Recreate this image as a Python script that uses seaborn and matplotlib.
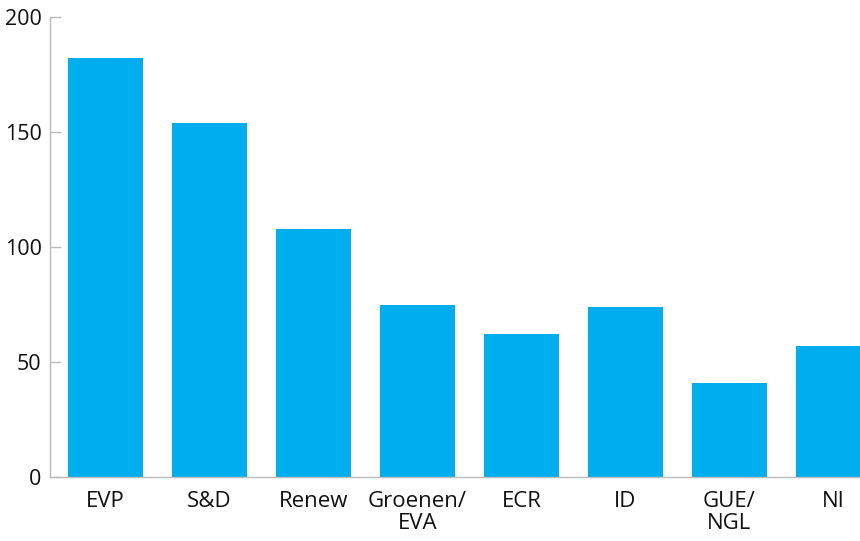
import matplotlib
matplotlib.use("Agg")
import matplotlib.pyplot as plt
import seaborn as sns
import pandas as pd

categories = ["EVP", "S&D", "Renew", "Groenen/\nEVA", "ECR", "ID", "GUE/\nNGL", "NI"]
seats = [182, 154, 108, 75, 62, 74, 41, 57]
yticks = [0, 50, 100, 150, 200]

sns.set_theme(style="white")
plt.rcParams['font.family'] = ['Open Sans', 'DejaVu Sans']

df = pd.DataFrame({"group": categories, "seats": seats})

fig = plt.figure(figsize=(8.6, 5.41), dpi=100)
ax = fig.add_axes([50/860, 64/541, 810/860, 460/541])
sns.barplot(data=df, x="group", y="seats", color="#00AEEF", saturation=1,
            width=0.72, linewidth=0, edgecolor="none", ax=ax)
ax.set_xlim(-0.534, 7.255)
ax.set_ylim(0, 200)
ax.set_yticks(yticks)
ax.set_xlabel("")
ax.set_ylabel("")
for s in ["top", "right"]:
    ax.spines[s].set_visible(False)
for s in ["left", "bottom"]:
    ax.spines[s].set_color("#BBBBBB")
    ax.spines[s].set_linewidth(1)
ax.tick_params(axis="y", direction="in", length=8, color="#BBBBBB", width=1,
               labelsize=15.5, labelcolor="#111111", pad=6, left=True)
ax.tick_params(axis="x", length=0, labelsize=16, labelcolor="#111111", pad=10)
for lbl in ax.get_xticklabels():
    lbl.set_linespacing(1.05)
fig.savefig("out.png", dpi=100)
